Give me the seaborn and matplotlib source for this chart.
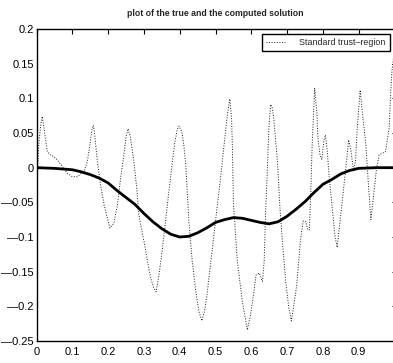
import numpy as np
import pandas as pd
import matplotlib
matplotlib.use("Agg")
import matplotlib.pyplot as plt
import seaborn as sns

# Computed solution (standard trust-region), sampled at its turning points
computed_x = [0.000, 0.002, 0.004, 0.007, 0.012, 0.016, 0.021, 0.026, 0.030, 0.040,
              0.049, 0.058, 0.072, 0.086, 0.100, 0.114, 0.133, 0.142, 0.149, 0.155,
              0.159, 0.163, 0.170, 0.179, 0.189, 0.198, 0.205, 0.216, 0.226, 0.235,
              0.244, 0.251, 0.256, 0.262, 0.272, 0.280, 0.286, 0.292, 0.302, 0.310,
              0.319, 0.327, 0.334, 0.342, 0.351, 0.361, 0.370, 0.379, 0.386, 0.393,
              0.398, 0.406, 0.412, 0.417, 0.421, 0.426, 0.435, 0.445, 0.454, 0.462,
              0.470, 0.477, 0.487, 0.496, 0.505, 0.514, 0.524, 0.533, 0.540, 0.545,
              0.547, 0.550, 0.561, 0.575, 0.589, 0.598, 0.606, 0.613, 0.622, 0.631,
              0.636, 0.640, 0.645, 0.649, 0.654, 0.658, 0.663, 0.673, 0.680, 0.687,
              0.696, 0.705, 0.712, 0.719, 0.727, 0.733, 0.738, 0.745, 0.752, 0.758,
              0.762, 0.766, 0.770, 0.777, 0.783, 0.786, 0.792, 0.797, 0.803, 0.807,
              0.812, 0.817, 0.826, 0.834, 0.840, 0.850, 0.859, 0.866, 0.872, 0.878,
              0.886, 0.891, 0.896, 0.904, 0.910, 0.920, 0.926, 0.934, 0.943, 0.950,
              0.957, 0.966, 0.975, 0.985, 0.989, 0.993, 1.000]
computed_y = [-0.058, -0.025, 0.009, 0.038, 0.062, 0.074, 0.057, 0.038, 0.023, 0.018,
              0.016, 0.011, 0.002, -0.008, -0.013, -0.013, -0.005, 0.009, 0.033, 0.055,
              0.061, 0.045, 0.009, -0.025, -0.054, -0.073, -0.087, -0.080, -0.054, -0.015,
              0.018, 0.047, 0.056, 0.045, 0.009, -0.030, -0.068, -0.085, -0.111, -0.135,
              -0.159, -0.173, -0.179, -0.155, -0.120, -0.075, -0.033, 0.005, 0.035, 0.055,
              0.060, 0.052, 0.030, 0.005, -0.035, -0.080, -0.135, -0.179, -0.208, -0.221,
              -0.205, -0.180, -0.135, -0.095, -0.055, -0.015, 0.033, 0.076, 0.099, 0.070,
              0.033, -0.050, -0.135, -0.193, -0.234, -0.212, -0.184, -0.155, -0.152, -0.164,
              -0.135, -0.063, -0.001, 0.057, 0.091, 0.088, 0.070, 0.009, -0.058, -0.107,
              -0.164, -0.203, -0.221, -0.198, -0.169, -0.131, -0.102, -0.077, -0.078, -0.090,
              -0.090, -0.039, 0.033, 0.115, 0.081, 0.043, 0.018, 0.012, 0.040, 0.047,
              0.025, -0.010, -0.058, -0.100, -0.115, -0.068, -0.025, 0.009, 0.040, 0.025,
              -0.005, 0.010, 0.057, 0.112, 0.081, 0.033, -0.015, -0.075, -0.034, -0.001,
              0.018, 0.021, 0.023, 0.057, 0.105, 0.140, 0.170]

# True solution
true_x = [0.000, 0.050, 0.100, 0.125, 0.150, 0.175, 0.200, 0.225, 0.250, 0.275,
          0.300, 0.325, 0.350, 0.375, 0.400, 0.425, 0.450, 0.475, 0.500, 0.525,
          0.550, 0.575, 0.600, 0.625, 0.650, 0.675, 0.700, 0.725, 0.750, 0.775,
          0.800, 0.825, 0.850, 0.875, 0.900, 0.950, 1.000]
true_y = [0.000, -0.001, -0.003, -0.006, -0.010, -0.015, -0.022, -0.033, -0.043, -0.053,
          -0.066, -0.078, -0.088, -0.096, -0.100, -0.099, -0.094, -0.087, -0.079, -0.075,
          -0.072, -0.073, -0.076, -0.079, -0.081, -0.078, -0.070, -0.060, -0.049, -0.036,
          -0.024, -0.017, -0.009, -0.004, -0.001, 0.000, 0.000]

x_ticks = [0, 0.1, 0.2, 0.3, 0.4, 0.5, 0.6, 0.7, 0.8, 0.9, 1.0]
x_tick_labels = ["0", "0.1", "0.2", "0.3", "0.4", "0.5", "0.6", "0.7", "0.8", "0.9", ""]
y_ticks = [-0.25, -0.2, -0.15, -0.1, -0.05, 0, 0.05, 0.1, 0.15, 0.2]
y_tick_labels = ["\u20140.25", "\u20140.2", "\u20140.15", "\u20140.1", "\u20140.05",
                 "0", "0.05", "0.1", "0.15", "0.2"]

title_text = "plot of the true and the computed solution"
legend_label = "Standard trust\u2013region"

sns.set_style("white")
plt.rcParams["font.family"] = ["Liberation Sans Narrow", "Liberation Sans", "DejaVu Sans"]
plt.rcParams["axes.unicode_minus"] = False

computed = pd.DataFrame({"x": computed_x, "y": computed_y})
true_sol = pd.DataFrame({"x": true_x, "y": true_y})

fig = plt.figure(figsize=(3.93, 3.63), dpi=100)
ax = fig.add_axes([36.5 / 393, 22 / 363, 358 / 393, 312 / 363])

sns.lineplot(data=computed, x="x", y="y", ax=ax, color="#1a1a1a", linewidth=0.7,
             linestyle=":", estimator=None, sort=False, label=legend_label)
sns.lineplot(data=true_sol, x="x", y="y", ax=ax, color="black", linewidth=2.0,
             estimator=None, sort=False, label="_nolegend_")

ax.set_xlim(0, 1)
ax.set_ylim(-0.25, 0.2)
ax.set_xticks(x_ticks)
ax.set_xticklabels(x_tick_labels)
ax.set_yticks(y_ticks)
ax.set_yticklabels(y_tick_labels)
ax.set_xlabel("")
ax.set_ylabel("")

for side in ["left", "right", "top", "bottom"]:
    ax.spines[side].set_visible(True)
    ax.spines[side].set_color("black")
    ax.spines[side].set_linewidth(1.0)

ax.tick_params(axis="both", which="major", direction="in", top=True, right=True,
               labelsize=8, colors="black", width=0.8)
ax.tick_params(axis="x", length=3.5, pad=4)
ax.tick_params(axis="y", length=2.5, pad=2)

ax.set_title(title_text, fontsize=6.3, fontweight="bold", pad=9)

leg = ax.legend(loc="upper right", bbox_to_anchor=(0.987, 0.984), borderaxespad=0,
                fontsize=6.4, frameon=True, fancybox=False, framealpha=1,
                edgecolor="black", handlelength=2.3, handletextpad=1.5,
                borderpad=0.45)
leg.get_frame().set_linewidth(1.0)

fig.savefig("out.png", dpi=100)
